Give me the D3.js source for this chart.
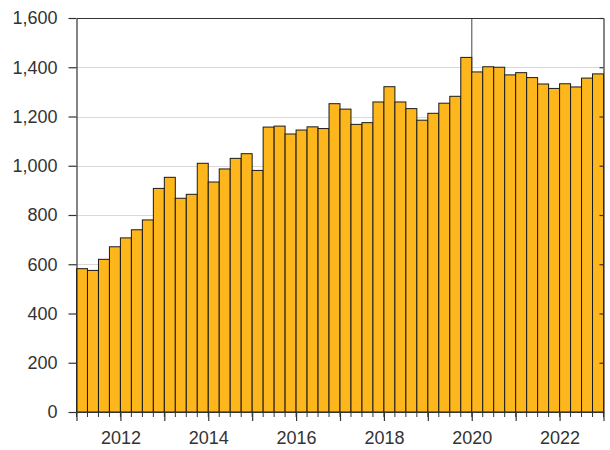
<!DOCTYPE html>
<html lang="en">

<head>
  <meta charset="utf-8">
  <title>Quarterly bars</title>
  <script src="https://cdnjs.cloudflare.com/ajax/libs/d3/7.6.1/d3.min.js"></script>
  <style>
    body { margin: 0; background: white; }
    text { font-family: "Liberation Sans", Helvetica, Arial, sans-serif; }
  </style>
</head>

<body>

  <div id="chart"></div>

  <script>
    // quarters, 2011 Q1 .. 2022 Q4
    const quarters = [
      '2011Q1', '2011Q2', '2011Q3', '2011Q4', '2012Q1', '2012Q2', '2012Q3', '2012Q4',
      '2013Q1', '2013Q2', '2013Q3', '2013Q4', '2014Q1', '2014Q2', '2014Q3', '2014Q4',
      '2015Q1', '2015Q2', '2015Q3', '2015Q4', '2016Q1', '2016Q2', '2016Q3', '2016Q4',
      '2017Q1', '2017Q2', '2017Q3', '2017Q4', '2018Q1', '2018Q2', '2018Q3', '2018Q4',
      '2019Q1', '2019Q2', '2019Q3', '2019Q4', '2020Q1', '2020Q2', '2020Q3', '2020Q4',
      '2021Q1', '2021Q2', '2021Q3', '2021Q4', '2022Q1', '2022Q2', '2022Q3', '2022Q4'
    ];
    const values = [
      582, 575, 620, 671, 707, 740, 780, 908,
      953, 868, 884, 1010, 934, 987, 1030, 1049,
      981, 1157, 1161, 1129, 1145, 1158, 1151, 1252,
      1230, 1168, 1175, 1259, 1321, 1259, 1232, 1185,
      1213, 1254, 1282, 1440, 1381, 1402, 1400, 1369,
      1378, 1358, 1332, 1314, 1333, 1320, 1356, 1373
    ];
    const years = [2011, 2012, 2013, 2014, 2015, 2016, 2017, 2018, 2019, 2020, 2021, 2022, 2023];
    const yearLabels = [2012, 2014, 2016, 2018, 2020, 2022];
    const yTicks = [0, 200, 400, 600, 800, 1000, 1200, 1400, 1600];
    const markerYear = 2020;

    const width = 610, height = 450;
    const plotLeft = 76.5, plotRight = 603.5, plotTop = 18, plotBottom = 412;

    const svg = d3.select('#chart')
      .append('svg')
      .attr('width', width)
      .attr('height', height);

    const xBand = d3.scaleBand()
      .domain(quarters)
      .range([plotLeft, plotRight])
      .padding(0);

    const xYear = d3.scaleLinear()
      .domain([years[0], years[years.length - 1]])
      .range([plotLeft, plotRight]);

    const yScale = d3.scaleLinear()
      .domain([0, 1600])
      .range([plotBottom, plotTop]);

    // gridlines
    svg.append('g')
      .selectAll('line')
      .data(yTicks.filter(d => d > 0 && d < 1600))
      .enter()
      .append('line')
      .attr('x1', plotLeft)
      .attr('x2', plotRight)
      .attr('y1', d => Math.round(yScale(d)) + 0.5)
      .attr('y2', d => Math.round(yScale(d)) + 0.5)
      .attr('stroke', '#d9d9d9')
      .attr('stroke-width', 1);

    // marker line at 2020
    svg.append('line')
      .attr('x1', xYear(markerYear))
      .attr('x2', xYear(markerYear))
      .attr('y1', plotTop)
      .attr('y2', plotBottom)
      .attr('stroke', '#707070')
      .attr('stroke-width', 1.3);

    // bars
    svg.append('g')
      .selectAll('rect')
      .data(values)
      .enter()
      .append('rect')
      .attr('x', (d, i) => xBand(quarters[i]))
      .attr('y', d => yScale(d))
      .attr('width', xBand.bandwidth())
      .attr('height', d => plotBottom - yScale(d))
      .attr('fill', '#fdb71c')
      .attr('stroke', '#1a1a1a')
      .attr('stroke-width', 1);

    // left axis
    svg.append('g')
      .attr('transform', `translate(${plotLeft}, 0)`)
      .call(d3.axisLeft(yScale)
        .tickValues(yTicks)
        .tickFormat(d3.format(','))
        .tickSize(8)
        .tickSizeOuter(0)
        .tickPadding(11));

    // right axis
    svg.append('g')
      .attr('transform', `translate(${plotRight}, 0)`)
      .call(d3.axisRight(yScale)
        .tickValues(yTicks)
        .tickFormat('')
        .tickSize(-4)
        .tickSizeOuter(0));

    // top frame
    svg.append('g')
      .attr('transform', `translate(0, ${plotTop})`)
      .call(d3.axisTop(xYear)
        .tickValues([])
        .tickSizeOuter(0));

    // bottom axis, quarterly minor ticks
    const quarterEdges = quarters.map(q => xBand(q)).concat([plotRight]);
    svg.append('g')
      .attr('transform', `translate(0, ${plotBottom})`)
      .selectAll('line')
      .data(quarterEdges)
      .enter()
      .append('line')
      .attr('x1', d => d)
      .attr('x2', d => d)
      .attr('y1', 0)
      .attr('y2', 5)
      .attr('stroke', '#333');

    // bottom axis, yearly major ticks
    svg.append('g')
      .attr('transform', `translate(0, ${plotBottom})`)
      .call(d3.axisBottom(xYear)
        .tickValues(years)
        .tickFormat(d => yearLabels.includes(d) ? String(d) : '')
        .tickSize(9)
        .tickSizeOuter(0)
        .tickPadding(10));

    svg.selectAll('.domain, .tick line')
      .attr('stroke', '#333')
      .attr('stroke-width', 1.2);

    svg.selectAll('.tick text')
      .attr('fill', '#333')
      .style('font-size', '18px');
  </script>

</body>

</html>
